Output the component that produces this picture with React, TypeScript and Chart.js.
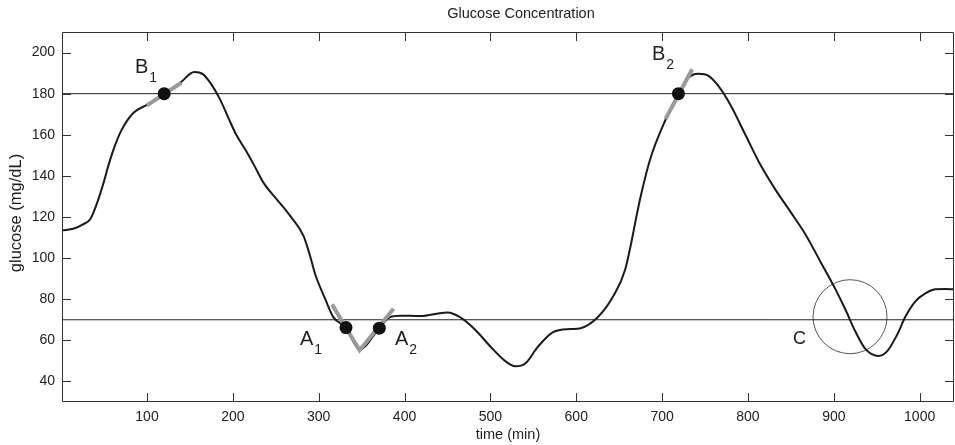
import { useEffect, useRef } from 'react';
import { Chart, registerables } from 'chart.js';

Chart.register(...registerables);

// ---- data ----
const TITLE = 'Glucose Concentration';
const X_TITLE = 'time (min)';
const Y_TITLE = 'glucose (mg/dL)';

const X_MIN = 1;
const X_MAX = 1040;
const Y_MIN = 30;
const Y_MAX = 210;
const X_TICKS = [100, 200, 300, 400, 500, 600, 700, 800, 900, 1000];
const Y_TICKS = [40, 60, 80, 100, 120, 140, 160, 180, 200];

const HIGH_THRESHOLD = 180;
const LOW_THRESHOLD = 70;

const TIME_MIN = [1, 15, 26, 34, 42, 49.4, 55, 61, 70, 84, 100, 120, 139, 155, 165, 174, 185.4, 195, 204, 214.5, 225, 235.8, 251.4, 267, 282.4, 290, 296, 307.7, 317, 331.8, 347.5, 370.6, 383, 395, 418, 450, 465, 482, 500, 517, 529, 541, 555, 573, 593, 605, 625, 643, 657, 675, 686, 704, 719, 730.5, 742, 754, 765.5, 779.5, 797, 814.4, 832, 849.4, 867, 884.3, 902, 913.5, 925, 937, 952, 962, 974, 983, 995, 1006.6, 1018, 1030, 1040];
const GLUCOSE = [113.4, 114.4, 116.5, 119, 127, 136.6, 145, 152.8, 162, 170.6, 174.6, 180, 185.4, 190.5, 189.5, 185.1, 177, 168, 160, 152.8, 145, 136.6, 128.5, 120.4, 110.7, 101, 92, 80, 71.3, 66.2, 55.5, 65.9, 71.3, 72, 71.8, 73.6, 71.2, 65.3, 57, 50, 47.4, 48.9, 56.7, 64, 65.5, 65.9, 71.2, 81.4, 94.5, 130, 148, 167.3, 180, 187.7, 189.7, 188.7, 183.8, 174.6, 160, 145.5, 133.3, 122.6, 111.5, 98.4, 84.8, 75, 64.4, 55.7, 52.4, 54.6, 62.9, 71.2, 79, 82.8, 84.8, 85, 84.8];

const MARK_T = [120, 331.8, 370.6, 719];
const MARK_G = [180, 66.2, 65.9, 180];

const TAN_B1_T = [100, 140];
const TAN_B1_G = [174.3, 185.3];
const TAN_A_T = [315.5, 347.6, 387.2];
const TAN_A_G = [77.5, 55.2, 75.4];
const TAN_B2_T = [704, 735];
const TAN_B2_G = [167.7, 191.9];

const CIRCLE_T = [918.9];
const CIRCLE_G = [71.5];

const LABEL_MAIN = ['B', 'B', 'A', 'A', 'C'];
const LABEL_SUB = ['1', '2', '1', '2', ''];
const LABEL_T = [86, 688.2, 278.2, 388.9, 852.5];
const LABEL_G = [190.1, 196.6, 57.7, 57.7, 58.2];
const LABEL_SIZE = [20, 20, 20, 20, 18];

const FONT = '"Liberation Sans", Arial, Helvetica, sans-serif';

const pts = (ts: number[], gs: number[]) => ts.map((t, i) => ({ x: t, y: gs[i] }));

const decorPlugin = {
  id: 'decor',
  afterDraw(chart: any) {
    const ctx = chart.ctx as CanvasRenderingContext2D;
    const { left, right, top, bottom } = chart.chartArea;
    const xs = chart.scales.x;
    const ys = chart.scales.y;
    ctx.save();
    ctx.strokeStyle = '#333';
    ctx.lineWidth = 1;
    // box
    ctx.beginPath();
    ctx.rect(Math.round(left) + 0.5, Math.round(top) + 0.5, Math.round(right - left) - 1, Math.round(bottom - top) - 1);
    ctx.stroke();
    // inward ticks
    const TL = 9;
    ctx.beginPath();
    X_TICKS.forEach((v) => {
      const px = Math.round(xs.getPixelForValue(v)) + 0.5;
      ctx.moveTo(px, bottom);
      ctx.lineTo(px, bottom - TL);
      ctx.moveTo(px, top);
      ctx.lineTo(px, top + TL);
    });
    Y_TICKS.forEach((v) => {
      const py = Math.round(ys.getPixelForValue(v)) + 0.5;
      ctx.moveTo(left, py);
      ctx.lineTo(left + TL, py);
      ctx.moveTo(right, py);
      ctx.lineTo(right - TL, py);
    });
    ctx.stroke();

    ctx.fillStyle = '#222';
    // tick labels
    ctx.font = `14px ${FONT}`;
    ctx.textBaseline = 'middle';
    ctx.textAlign = 'center';
    X_TICKS.forEach((v) => {
      ctx.fillText(String(v), xs.getPixelForValue(v), bottom + 15);
    });
    ctx.textAlign = 'right';
    Y_TICKS.forEach((v) => {
      ctx.fillText(String(v), left - 7, ys.getPixelForValue(v));
    });

    // point labels
    ctx.textAlign = 'left';
    ctx.textBaseline = 'alphabetic';
    LABEL_MAIN.forEach((m, i) => {
      const px = xs.getPixelForValue(LABEL_T[i]);
      const py = ys.getPixelForValue(LABEL_G[i]);
      ctx.font = `${LABEL_SIZE[i]}px ${FONT}`;
      ctx.fillText(m, px, py);
      const w = ctx.measureText(m).width;
      if (LABEL_SUB[i]) {
        ctx.font = `14px ${FONT}`;
        ctx.fillText(LABEL_SUB[i], px + w + 1, py + 9);
      }
    });

    // title
    ctx.font = `14.5px ${FONT}`;
    ctx.textAlign = 'center';
    ctx.textBaseline = 'middle';
    ctx.fillText(TITLE, (left + right) / 2 + 13, 14);
    // x axis title
    ctx.fillText(X_TITLE, (left + right) / 2, 435);
    // y axis title
    ctx.save();
    ctx.translate(16, (top + bottom) / 2 - 4);
    ctx.rotate(-Math.PI / 2);
    ctx.font = `16.5px ${FONT}`;
    ctx.fillText(Y_TITLE, 0, 0);
    ctx.restore();

    ctx.restore();
  },
};

export default function App() {
  const ref = useRef<HTMLCanvasElement | null>(null);

  useEffect(() => {
    document.body.style.margin = '0';
    if (!ref.current) return;
    const chart = new Chart(ref.current, {
      type: 'line',
      data: {
        datasets: [
          {
            data: pts(MARK_T, MARK_G),
            showLine: false,
            pointRadius: 6.5,
            pointBackgroundColor: '#111',
            pointBorderColor: '#111',
            pointBorderWidth: 0,
          } as any,
          {
            data: pts(TAN_B1_T, TAN_B1_G),
            borderColor: '#9a9a9a',
            borderWidth: 4,
            pointRadius: 0,
            tension: 0,
          },
          {
            data: pts(TAN_A_T, TAN_A_G),
            borderColor: '#9a9a9a',
            borderWidth: 4,
            pointRadius: 0,
            tension: 0,
          },
          {
            data: pts(TAN_B2_T, TAN_B2_G),
            borderColor: '#9a9a9a',
            borderWidth: 4,
            pointRadius: 0,
            tension: 0,
          },
          {
            data: pts(TIME_MIN, GLUCOSE),
            borderColor: '#1a1a1a',
            borderWidth: 2,
            pointRadius: 0,
            cubicInterpolationMode: 'monotone',
          },
          {
            data: pts([X_MIN, X_MAX], [HIGH_THRESHOLD, HIGH_THRESHOLD]),
            borderColor: '#222',
            borderWidth: 1,
            pointRadius: 0,
          },
          {
            data: pts([X_MIN, X_MAX], [LOW_THRESHOLD, LOW_THRESHOLD]),
            borderColor: '#222',
            borderWidth: 1,
            pointRadius: 0,
          },
          {
            data: pts(CIRCLE_T, CIRCLE_G),
            showLine: false,
            pointRadius: 37,
            pointBackgroundColor: 'rgba(0,0,0,0)',
            pointBorderColor: '#555',
            pointBorderWidth: 1,
          } as any,
        ],
      },
      options: {
        animation: false,
        responsive: false,
        events: [],
        layout: { autoPadding: false, padding: { top: 32, right: 1, left: 62, bottom: 43 } },
        plugins: {
          legend: { display: false },
          tooltip: { enabled: false },
          title: { display: false },
        },
        scales: {
          x: {
            type: 'linear',
            display: false,
            min: X_MIN,
            max: X_MAX,
          },
          y: {
            type: 'linear',
            display: false,
            min: Y_MIN,
            max: Y_MAX,
          },
        },
      } as any,
      plugins: [decorPlugin],
    });
    return () => chart.destroy();
  }, []);

  return (
    <div style={{ position: 'absolute', left: 0, top: 0, width: 955, height: 445 }}>
      <canvas ref={ref} width={955} height={445} style={{ display: 'block', width: 955, height: 445 }} />
    </div>
  );
}
